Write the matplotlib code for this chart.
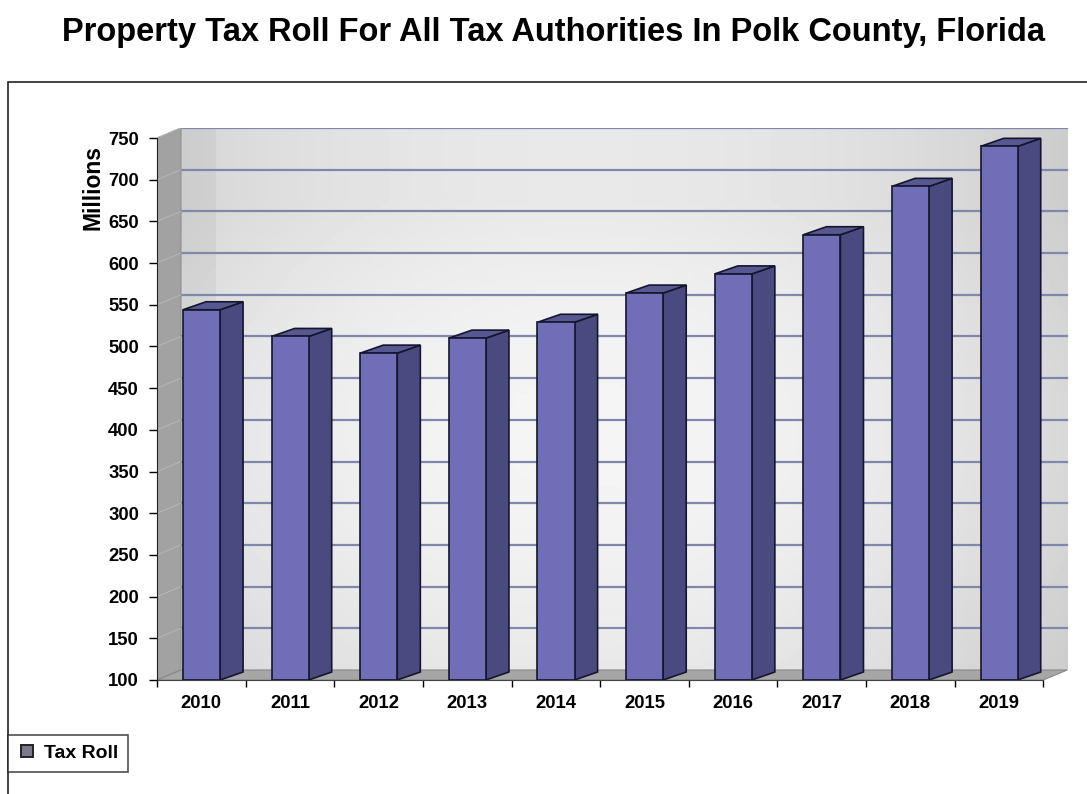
import numpy as np
import matplotlib
matplotlib.use("Agg")
import matplotlib.pyplot as plt
from matplotlib.patches import Polygon, Rectangle
from matplotlib.lines import Line2D

plt.rcParams['font.family'] = ['Liberation Sans', 'DejaVu Sans']

years = ['2010', '2011', '2012', '2013', '2014', '2015', '2016', '2017', '2018', '2019']
tax_roll = [544, 512, 492, 510, 529, 564, 587, 634, 692, 740]
yticks = list(range(100, 751, 50))

W, H = 1087, 794
fig = plt.figure(figsize=(W / 100, H / 100), dpi=100)

# axes placed in pixels: x 157..1069, y 128..680
ax = fig.add_axes([157 / W, (H - 680) / H, 912 / W, 552 / H])
ax.set_xlim(0, 10.29)
ax.set_ylim(100, 762)

DX, DY = 0.27, 12          # wall depth offset
BDX, BDY = 0.26, 9.6       # bar depth offset
n = len(years)

# back wall gradient
gx = np.linspace(0, 1, 200)
gy = np.linspace(0, 1, 100)
hx = 1 - 0.12 * np.clip(np.abs(gx - 0.45) / 0.55, 0, 1) ** 2
hx[gx < 0.04] -= 0.04
hy = 0.93 + 0.05 * np.sin(np.pi * np.clip(gy * 1.15, 0, 1))
grad = np.outer(hy, hx) * 0.98
ax.imshow(grad, cmap='gray', vmin=0, vmax=1, extent=[DX, n + DX, 100 + DY, 750 + DY],
          origin='lower', aspect='auto', zorder=0)

# gridlines on back wall
for v in yticks[1:]:
    ax.plot([DX, n + DX], [v + DY, v + DY], color='#7f88aa', lw=1.6, zorder=1)

# side wall
ax.add_patch(Polygon([(0, 100), (DX, 100 + DY), (DX, 750 + DY), (0, 750)],
                     closed=True, facecolor='#a2a2a2', edgecolor='#8a8a8a', lw=0.8, zorder=2))
for v in yticks[1:]:
    ax.plot([0, DX], [v, v + DY], color='#b4b4b4', lw=0.8, zorder=2)

# floor
ax.add_patch(Polygon([(0, 100), (n, 100), (n + DX, 100 + DY), (DX, 100 + DY)],
                     closed=True, facecolor='#a6a6a6', edgecolor='#888888', lw=0.8, zorder=2))

# bars
front_c, side_c, top_c, edge_c = '#6f6eb6', '#4b4a80', '#585890', '#15152e'
for i, v in enumerate(tax_roll):
    x0 = i + 0.293
    x1 = i + 0.711
    ax.add_patch(Polygon([(x1, 100), (x1 + BDX, 100 + BDY), (x1 + BDX, v + BDY), (x1, v)],
                         closed=True, facecolor=side_c, edgecolor=edge_c, lw=1.2, zorder=3))
    ax.add_patch(Polygon([(x0, v), (x1, v), (x1 + BDX, v + BDY), (x0 + BDX, v + BDY)],
                         closed=True, facecolor=top_c, edgecolor=edge_c, lw=1.2, zorder=3))
    ax.add_patch(Rectangle((x0, 100), x1 - x0, v - 100, facecolor=front_c,
                           edgecolor=edge_c, lw=1.2, zorder=4))

# axes lines and ticks
for s in ['top', 'right']:
    ax.spines[s].set_visible(False)
ax.spines['left'].set_bounds(100, 750)
ax.spines['left'].set_color('#222222')
ax.spines['bottom'].set_bounds(0, n)
ax.spines['bottom'].set_color('#444444')
ax.spines['left'].set_zorder(5)

ax.set_yticks(yticks)
ax.set_yticklabels([str(t) for t in yticks], fontsize=13.3, fontweight='bold')
ax.tick_params(axis='y', length=6, width=1, direction='out', pad=7)

ax.set_xticks(np.arange(n) + 0.5)
ax.set_xticklabels(years, fontsize=13.3, fontweight='bold')
ax.set_xticks(np.arange(n + 1), minor=True)
ax.tick_params(axis='x', which='major', length=0, pad=11)
ax.tick_params(axis='x', which='minor', length=5, width=1, direction='out')

fig.text(93 / W, 1 - 188 / H, 'Millions', rotation=90, ha='center', va='center',
         fontsize=16.5, fontweight='bold')

fig.text(553 / W, 1 - 32 / H,
         'Property Tax Roll For All Tax Authorities In Polk County, Florida',
         ha='center', va='center', fontsize=23.5, fontweight='bold')

# chart area border
fig.add_artist(Rectangle((8 / W, -0.02), 1.05, 1 - 82 / H + 0.02, transform=fig.transFigure,
                         fill=False, edgecolor='#222222', lw=1.2))

# legend
handle = Line2D([], [], linestyle='none', marker='s', markersize=9,
                markerfacecolor='#7a7a8c', markeredgecolor='#222222', markeredgewidth=1.4)
leg = fig.legend([handle], ['Tax Roll'], loc='lower left',
                 bbox_to_anchor=(8 / W, 1 - 772 / H), borderaxespad=0, frameon=True,
                 fancybox=False, borderpad=0.5, handlelength=1.0, handletextpad=0.35,
                 prop={'weight': 'bold', 'size': 14})
leg.get_frame().set_edgecolor('#222222')
leg.get_frame().set_linewidth(1.2)

fig.savefig('out.png', dpi=100)
